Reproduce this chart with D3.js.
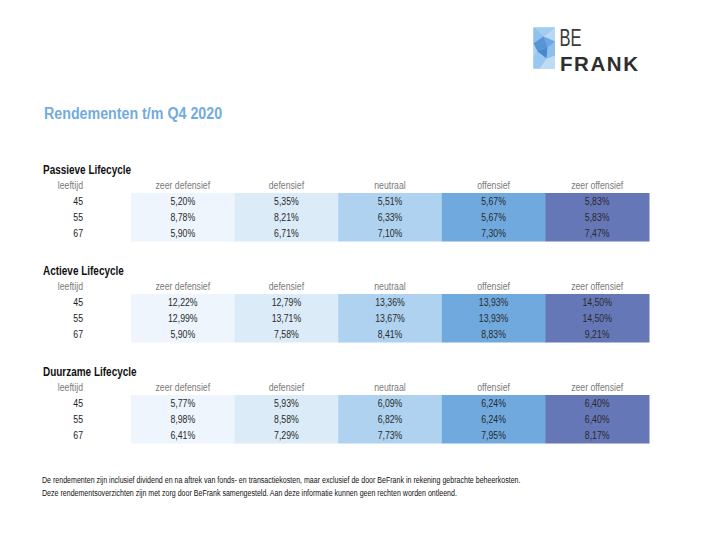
<!DOCTYPE html>
<html>
<head>
<meta charset="utf-8">
<script src="https://cdn.jsdelivr.net/npm/d3@7"></script>
<style>
  body { margin: 0; background: #fff; }
  svg { display: block; font-family: "Liberation Sans", Arial, sans-serif; }
</style>
</head>
<body>
<div id="chart"></div>
<script>
const profiles = ['zeer defensief', 'defensief', 'neutraal', 'offensief', 'zeer offensief'];
const ages = [45, 55, 67];
const tableTitles = ['Passieve Lifecycle', 'Actieve Lifecycle', 'Duurzame Lifecycle'];

// rendement per leeftijd (rij) en profiel (kolom), in %
const passieve = [
    [5.20, 5.35, 5.51, 5.67, 5.83],
    [8.78, 8.21, 6.33, 5.67, 5.83],
    [5.90, 6.71, 7.10, 7.30, 7.47]
];
const actieve = [
    [12.22, 12.79, 13.36, 13.93, 14.50],
    [12.99, 13.71, 13.67, 13.93, 14.50],
    [5.90, 7.58, 8.41, 8.83, 9.21]
];
const duurzame = [
    [5.77, 5.93, 6.09, 6.24, 6.40],
    [8.98, 8.58, 6.82, 6.24, 6.40],
    [6.41, 7.29, 7.73, 7.95, 8.17]
];
const footnotes = [
    'De rendementen zijn inclusief dividend en na aftrek van fonds- en transactiekosten, maar exclusief de door BeFrank in rekening gebrachte beheerkosten.',
    'Deze rendementsoverzichten zijn met zorg door BeFrank samengesteld. Aan deze informatie kunnen geen rechten worden ontleend.'
];

const width = 713;
const height = 547;
const colFill = ['#eef5fc', '#dcebf8', '#aed2f0', '#70a9de', '#6677b7'];
const squeezeK = 0.87; // the source font is a bit narrower than Arial

const nl = d3.formatLocale({ decimal: ',', thousands: '.', grouping: [3], currency: ['€ ', ''] });
const pct = v => nl.format('.2f')(v) + '%';

function squeeze(sel, k) {
    sel.each(function () {
        const w = this.getComputedTextLength();
        d3.select(this)
            .attr('textLength', w * k)
            .attr('lengthAdjust', 'spacingAndGlyphs');
    });
}

const svg = d3.select('#chart').append('svg')
    .attr('width', width)
    .attr('height', height);

// logo
const logo = svg.append('g').attr('transform', 'translate(533.5,27.5)');
logo.append('rect')
    .attr('width', 21.5).attr('height', 41)
    .style('fill', '#7fb6e6');
const facets = [
    ['0,0 21.5,0 10,9', '#a9d0f2'],
    ['0,0 10,9 0,16', '#93c3ee'],
    ['21.5,0 21.5,14 10,9', '#c3def6'],
    ['0,16 10,9 14,20 4,24', '#4f8fd3'],
    ['10,9 21.5,14 14,20', '#6aa6e0'],
    ['4,24 14,20 13,31', '#3f7fc8'],
    ['14,20 21.5,14 21.5,28 13,31', '#8fc0ec'],
    ['0,16 4,24 0,30', '#b5d6f4'],
    ['0,30 4,24 13,31 6,41 0,41', '#9ccaf0'],
    ['13,31 21.5,28 21.5,41 6,41', '#c9e2f7']
];
logo.selectAll('polygon').data(facets).join('polygon')
    .attr('points', d => d[0])
    .style('fill', d => d[1])
    .style('opacity', 0.85);

svg.append('text')
    .attr('x', 559.5).attr('y', 46.3)
    .attr('textLength', 22).attr('lengthAdjust', 'spacingAndGlyphs')
    .style('font-size', '24px')
    .style('fill', '#3a3a3a')
    .text('BE');
svg.append('text')
    .attr('x', 560).attr('y', 70.5)
    .attr('textLength', 78).attr('lengthAdjust', 'spacing')
    .style('font-weight', 'bold')
    .style('font-size', '20.5px')
    .style('fill', '#2e2e2e')
    .text('FRANK');

// title
svg.append('text')
    .attr('x', 44).attr('y', 119)
    .style('font-weight', 'bold')
    .style('font-size', '16px')
    .style('fill', '#72abe0')
    .text('Rendementen t/m Q4 2020')
    .call(squeeze, 0.89);

const x = d3.scaleBand().domain(profiles).range([131, 649]);
const ageX = 83;

[passieve, actieve, duurzame].forEach((rows, t) => {
    const top = 193 + t * 101;
    const y = d3.scaleBand().domain(ages).range([top, top + 48.5]);
    const g = svg.append('g');

    g.append('text')
        .attr('x', 43).attr('y', top - 19.5)
        .style('font-weight', 'bold')
        .style('font-size', '12px')
        .style('fill', '#111')
        .text(tableTitles[t])
        .call(squeeze, 0.83);

    g.append('text')
        .attr('x', ageX).attr('y', top - 4)
        .attr('text-anchor', 'end')
        .style('font-size', '10px')
        .style('fill', '#7a7a7a')
        .text('leeftijd')
        .call(squeeze, squeezeK);

    g.selectAll('.colhead').data(profiles).join('text')
        .attr('class', 'colhead')
        .attr('x', d => x(d) + x.bandwidth() / 2)
        .attr('y', top - 4)
        .attr('text-anchor', 'middle')
        .style('font-size', '10px')
        .style('fill', '#7a7a7a')
        .text(d => d)
        .call(squeeze, squeezeK);

    // column bands
    g.selectAll('.band').data(profiles).join('rect')
        .attr('class', 'band')
        .attr('x', d => x(d))
        .attr('y', top)
        .attr('width', x.bandwidth() + 0.5)
        .attr('height', y.range()[1] - top)
        .style('fill', (d, i) => colFill[i]);

    g.selectAll('.age').data(ages).join('text')
        .attr('class', 'age')
        .attr('x', ageX)
        .attr('y', d => y(d) + y.bandwidth() / 2 + 3.8)
        .attr('text-anchor', 'end')
        .style('font-size', '10px')
        .style('fill', '#222')
        .text(d => d)
        .call(squeeze, squeezeK);

    const cells = rows.flatMap((r, ri) => r.map((v, ci) => ({ age: ages[ri], profile: profiles[ci], v })));
    g.selectAll('.val').data(cells).join('text')
        .attr('class', 'val')
        .attr('x', d => x(d.profile) + x.bandwidth() / 2)
        .attr('y', d => y(d.age) + y.bandwidth() / 2 + 3.8)
        .attr('text-anchor', 'middle')
        .style('font-size', '10px')
        .style('fill', '#2a2a2a')
        .text(d => pct(d.v))
        .call(squeeze, squeezeK);
});

// footnotes
svg.selectAll('.note').data(footnotes).join('text')
    .attr('class', 'note')
    .attr('x', 42).attr('y', (d, i) => 482.5 + i * 13)
    .style('font-size', '8.5px')
    .style('fill', '#111')
    .text(d => d)
    .call(squeeze, 0.83);
</script>
</body>
</html>
